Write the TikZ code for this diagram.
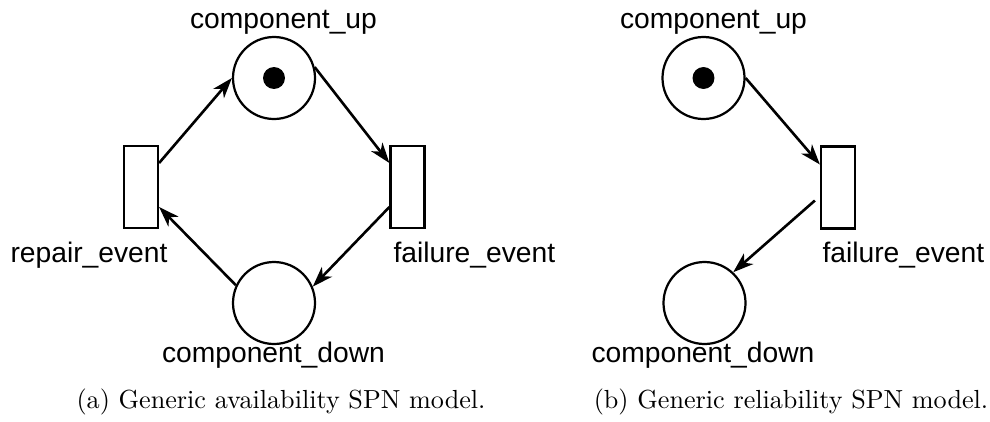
\documentclass[tikz,border=0pt]{standalone}
\usepackage{fontspec}
\newfontfamily\labelfont{Liberation Sans}
\usetikzlibrary{arrows.meta,calc}
\begin{document}
% one unit = one pixel of the 990 x 421 layout grid (0.3824pt)
\begin{tikzpicture}[x=0.3824pt,y=-0.3824pt,
  place/.style={circle,draw,line width=0.85pt,minimum size=31.36pt,inner sep=0pt},
  trans/.style={rectangle,draw,line width=0.85pt,minimum width=13pt,minimum height=31.36pt,inner sep=0pt},
  token/.style={circle,fill=black,minimum size=8.4pt,inner sep=0pt},
  lbl/.style={font=\labelfont\fontsize{10.8}{13}\selectfont,inner sep=0pt},
  captext/.style={font=\normalsize,inner sep=0pt},
  arc/.style={line width=1pt,-{Stealth[length=7.8pt,width=5.4pt,inset=2.3pt]}}]
\useasboundingbox (0,0) rectangle (990,421);

% (a) availability model
\node[place] (upA) at (274,78) {};
\node[token] (tokA) at (274,78) {};
\node[place] (downA) at (274,303) {};
\node[trans] (repA) at (141,187) {};
\node[trans] (failA) at (407.5,187) {};

\node[lbl,anchor=base] (upAl) at (283.5,28) {component\_up};
\node[lbl,anchor=base] (downAl) at (273.5,362) {component\_down};
\node[lbl,anchor=base west] (repAl) at (10,262) {repair\_event};
\node[lbl,anchor=base west] (failAl) at (393,262) {failure\_event};

\draw[arc] ($(repA.east)+(0,-24)$) -- (upA.west);
\draw[arc] (upA.15) -- ($(failA.west)+(0,-24)$);
\draw[arc] ($(failA.west)+(0,20)$) -- (downA.23);
\draw[arc] (downA.155) -- ($(repA.east)+(0,20)$);

\node[captext,anchor=base] (capA) at (281,408) {(a) Generic availability SPN model.};

% (b) reliability model
\node[place] (upB) at (703.5,78) {};
\node[token] (tokB) at (703.5,78) {};
\node[place] (downB) at (704.5,303) {};
\node[trans] (failB) at (838,187.5) {};

\node[lbl,anchor=base] (upBl) at (713.5,28) {component\_up};
\node[lbl,anchor=base] (downBl) at (703,362) {component\_down};
\node[lbl,anchor=base west] (failBl) at (822,262) {failure\_event};

\draw[arc] (upB.east) -- ($(failB.west)+(0,-23)$);
\draw[arc] ($(failB.west)+(-5,13)$) -- (downB.47);

\node[captext,anchor=base] (capB) at (791,408) {(b) Generic reliability SPN model.};
\end{tikzpicture}
\end{document}
